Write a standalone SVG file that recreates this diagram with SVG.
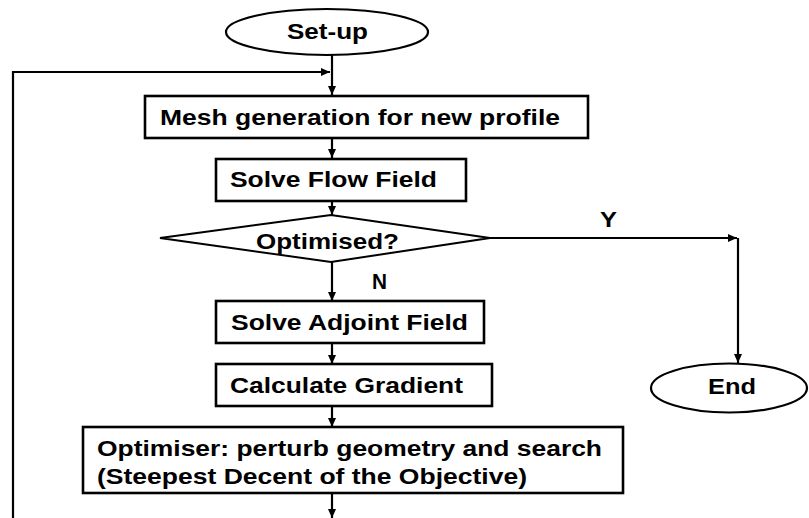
<svg xmlns="http://www.w3.org/2000/svg" width="809" height="518" viewBox="0 0 809 518">
<style>
.box{fill:#fff;stroke:#000;stroke-width:2.6}
.dia{fill:#fff;stroke:#000;stroke-width:2}
.ell{fill:#fff;stroke:#000;stroke-width:2.2}
.ln{fill:none;stroke:#000;stroke-width:2.2}
text{font-family:"Liberation Sans",Arial,sans-serif;font-weight:bold;font-size:22px;fill:#000}
</style>
<defs>
<marker id="ah" markerUnits="userSpaceOnUse" markerWidth="10" markerHeight="8" refX="9" refY="4" orient="auto">
<path d="M0,0 L9,4 L0,8 z" fill="#000"/>
</marker>
</defs>
<rect width="809" height="518" fill="#fff"/>
<g id="connectors">
<line class="ln" x1="332" y1="55" x2="332" y2="95" marker-end="url(#ah)"/>
<polyline class="ln" points="13,518 13,72 330,72" marker-end="url(#ah)"/>
<line class="ln" x1="332" y1="138" x2="332" y2="158" marker-end="url(#ah)"/>
<line class="ln" x1="332" y1="201" x2="332" y2="215" marker-end="url(#ah)"/>
<line class="ln" x1="332" y1="262" x2="332" y2="301" marker-end="url(#ah)"/>
<line class="ln" x1="332" y1="343" x2="332" y2="364" marker-end="url(#ah)"/>
<line class="ln" x1="332" y1="406" x2="332" y2="427" marker-end="url(#ah)"/>
<line class="ln" x1="332" y1="493" x2="332" y2="518" marker-end="url(#ah)"/>
<line class="ln" x1="490" y1="238" x2="737" y2="238" marker-end="url(#ah)"/>
<line class="ln" x1="738" y1="238" x2="738" y2="363" marker-end="url(#ah)"/>
<text x="600" y="227" textLength="17" lengthAdjust="spacingAndGlyphs">Y</text>
<text x="372" y="289" textLength="15" lengthAdjust="spacingAndGlyphs">N</text>
</g>
<g id="setup">
<ellipse class="ell" cx="327" cy="32" rx="101" ry="23"/>
<text x="287" y="39" textLength="81" lengthAdjust="spacingAndGlyphs">Set-up</text>
</g>
<g id="mesh">
<rect class="box" x="145" y="96" width="443" height="42"/>
<text x="160" y="125" textLength="400" lengthAdjust="spacingAndGlyphs">Mesh generation for new profile</text>
</g>
<g id="flow">
<rect class="box" x="216" y="159" width="250" height="42"/>
<text x="230" y="187" textLength="207" lengthAdjust="spacingAndGlyphs">Solve Flow Field</text>
</g>
<g id="optimised">
<polygon class="dia" points="160,238 331,215 490,238 331,262"/>
<text x="256" y="249" textLength="143" lengthAdjust="spacingAndGlyphs">Optimised?</text>
</g>
<g id="adjoint">
<rect class="box" x="216" y="301" width="268" height="42"/>
<text x="231" y="330" textLength="237" lengthAdjust="spacingAndGlyphs">Solve Adjoint Field</text>
</g>
<g id="gradient">
<rect class="box" x="216" y="364" width="276" height="42"/>
<text x="230" y="393" textLength="233" lengthAdjust="spacingAndGlyphs">Calculate Gradient</text>
</g>
<g id="optimiser">
<rect class="box" x="83" y="427" width="540" height="66"/>
<text x="97" y="456" textLength="505" lengthAdjust="spacingAndGlyphs">Optimiser: perturb geometry and search</text>
<text x="97" y="484" textLength="430" lengthAdjust="spacingAndGlyphs">(Steepest Decent of the Objective)</text>
</g>
<g id="end">
<ellipse class="ell" cx="729" cy="388" rx="78" ry="24.5"/>
<text x="708" y="394" textLength="48" lengthAdjust="spacingAndGlyphs">End</text>
</g>
</svg>
